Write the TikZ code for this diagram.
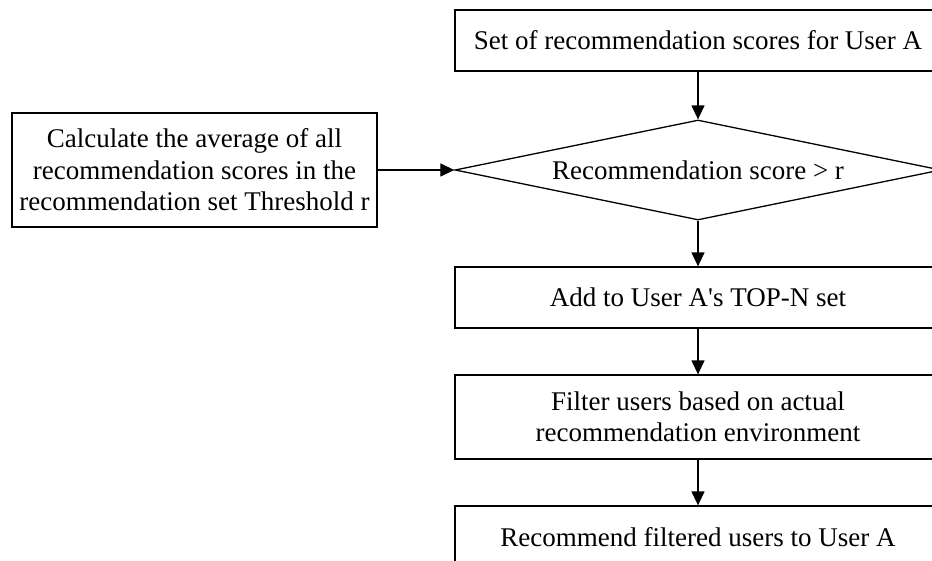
\documentclass[tikz,border=0pt]{standalone}
\usepackage{fontspec}
\setmainfont{Liberation Serif}
\usetikzlibrary{shapes.geometric,arrows.meta}
\begin{document}
\begin{tikzpicture}[x=1pt,y=-1pt,
  every node/.style={font=\fontsize{27}{31.5}\selectfont, align=center, inner sep=0pt},
  box/.style={draw, line width=1.3pt, rectangle},
  dec/.style={draw, line width=1.3pt, diamond, aspect=4.86},
  arr/.style={line width=1.3pt, -{Triangle[length=14pt,width=13pt]}}]
\useasboundingbox (0,0) rectangle (932,560);
\clip (0,0) rectangle (932,560);
\node[box, minimum width=486pt, minimum height=61pt] (s) at (698,40.5) {Set of recommendation scores for User A};
\node[dec, minimum width=486pt, minimum height=100pt] (d) at (698,170) {Recommendation score > r};
\node[box, minimum width=486pt, minimum height=61pt] (t) at (698,297.5) {Add to User A\textquotesingle s TOP-N set};
\node[box, minimum width=486pt, minimum height=84pt] (f) at (698,417) {Filter users based on actual\\recommendation environment};
\node[box, minimum width=486pt, minimum height=62pt] (r) at (698,537) {Recommend filtered users to User A};
\node[box, minimum width=365pt, minimum height=114pt] (c) at (194.5,170) {Calculate the average of all\\recommendation scores in the\\recommendation set Threshold r};
\draw[arr] (s) -- (d);
\draw[arr] (d) -- (t);
\draw[arr] (t) -- (f);
\draw[arr] (f) -- (r);
\draw[arr] (c) -- (d);
\end{tikzpicture}
\end{document}
